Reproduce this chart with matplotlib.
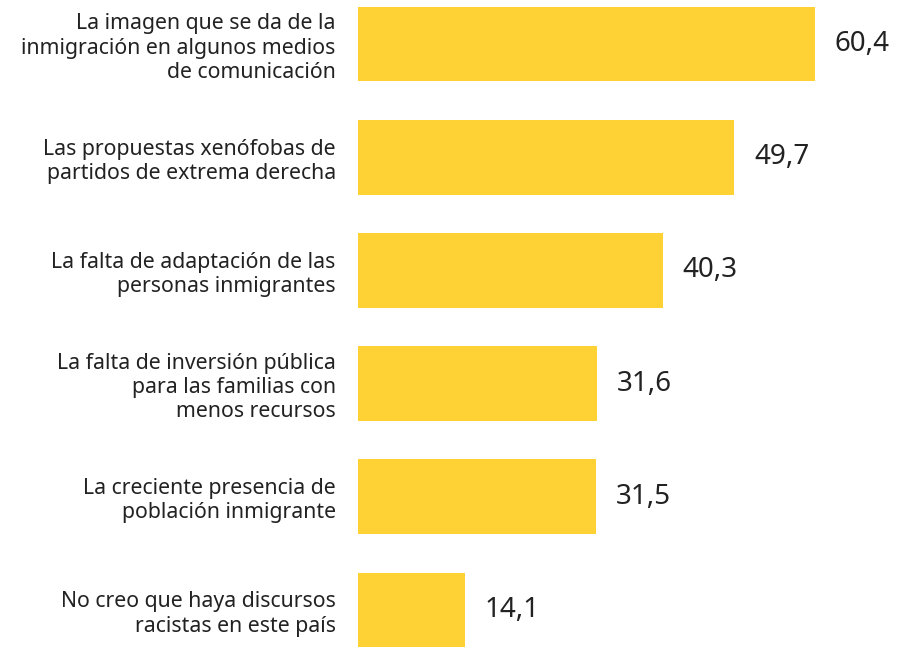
import matplotlib.pyplot as plt

categories = [
    "La imagen que se da de la\ninmigración en algunos medios\nde comunicación",
    "Las propuestas xenófobas de\npartidos de extrema derecha",
    "La falta de adaptación de las\npersonas inmigrantes",
    "La falta de inversión pública\npara las familias con\nmenos recursos",
    "La creciente presencia de\npoblación inmigrante",
    "No creo que haya discursos\nracistas en este país",
]
values = [60.4, 49.7, 40.3, 31.6, 31.5, 14.1]

plt.rcParams["font.family"] = ["Noto Sans", "DejaVu Sans"]

fig = plt.figure(figsize=(9, 6.47), dpi=100)
ax = fig.add_axes([358 / 900, 0, 542 / 900, 1])

pos = list(range(len(values)))
ax.barh(pos, values, height=0.66, color="#fed234")

for p, v in zip(pos, values):
    ax.text(v + 2.6, p, f"{v:.1f}".replace(".", ","), va="center", ha="left",
            fontsize=20, color="#222222")

ax.set_xlim(0, 71.6)
ax.set_ylim(5.327, -0.389)
ax.set_yticks(pos)
ax.set_yticklabels(categories, fontsize=15.3, color="#222222", linespacing=1.2)
ax.tick_params(axis="y", length=0, pad=16)
ax.set_xticks([])
for s in ax.spines.values():
    s.set_visible(False)

fig.savefig("out.png", dpi=100)
